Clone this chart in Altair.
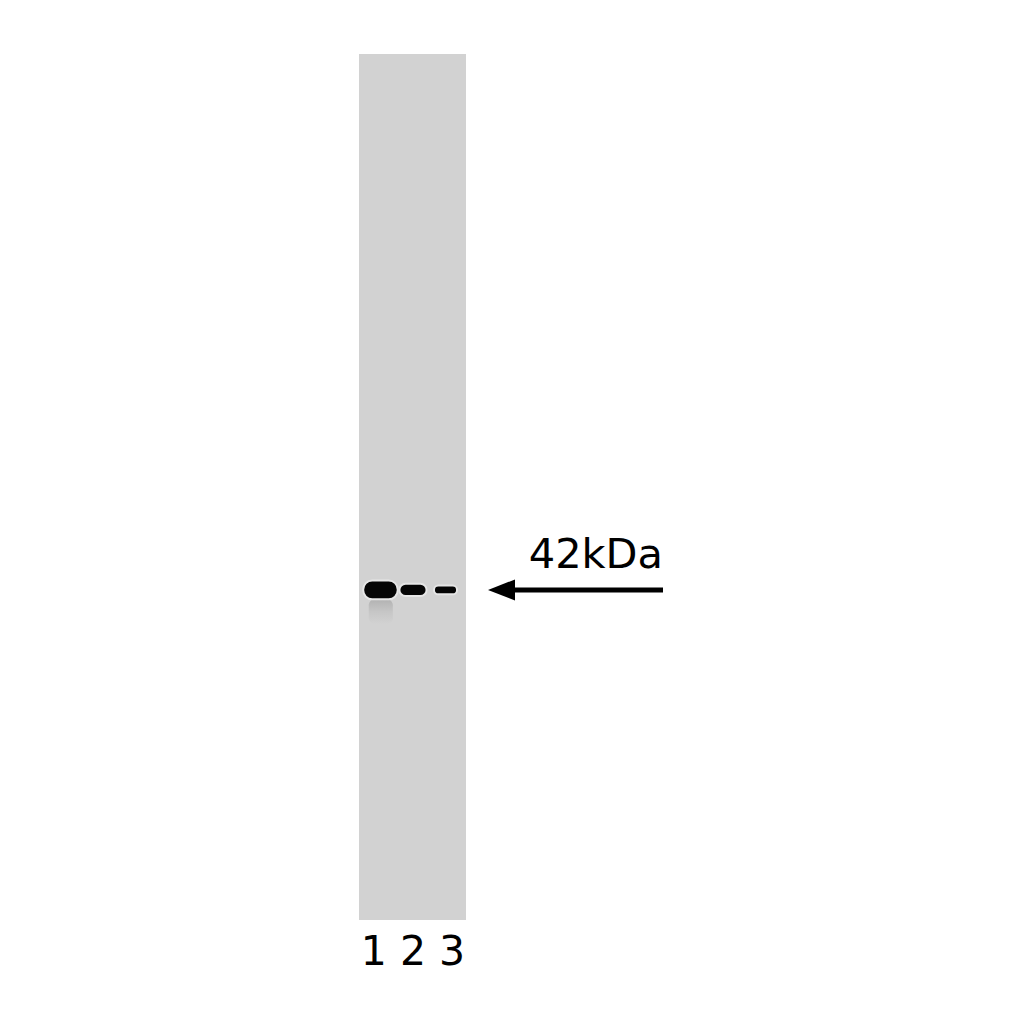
import altair as alt
import pandas as pd

lane_labels = ["1", "2", "3"]
lane_index = [1, 2, 3]
band_kda = [42, 42, 42]
band_intensity = [1.0, 0.55, 0.3]
marker_kda = 42
marker_label = f"{marker_kda}kDa"

# gel coordinate system (log molecular weight, lane number)
mw_top, mw_bottom = 250, 14
lane_domain = [0.34, 3.63]

bands = pd.DataFrame({
    "lane": lane_index,
    "label": lane_labels,
    "kda": band_kda,
    "intensity": band_intensity,
})
marker = pd.DataFrame({"kda": [marker_kda], "label": [marker_label]})

x_scale = alt.Scale(domain=lane_domain, nice=False, zero=False)
y_scale = alt.Scale(type="log", domain=[mw_bottom, mw_top], nice=False)

lane_axis = alt.Axis(
    title=" ".join(lane_labels), labels=False, ticks=False, domain=False, grid=False,
    titleFontSize=41, titleFont="DejaVu Sans", titleFontWeight="normal",
    titleColor="black", titlePadding=12,
)

band_base = alt.Chart(bands).transform_calculate(
    x0="datum.lane - (0.56 + 0.5 * datum.intensity) / 2",
    x1="datum.lane + (0.56 + 0.5 * datum.intensity) / 2",
    k_hi="datum.kda * pow(10, (2.2 + 7.2 * datum.intensity) * 0.00145)",
    k_lo="datum.kda / pow(10, (2.2 + 7.2 * datum.intensity) * 0.00145)",
)

smear = band_base.transform_filter("datum.intensity >= 1").transform_calculate(
    s0="datum.lane - 0.36",
    s1="datum.lane + 0.38",
    s_lo="datum.kda / pow(10, 34 * 0.00145)",
).mark_rect(
    color=alt.Gradient(
        gradient="linear",
        stops=[alt.GradientStop(color="#b2b2b2", offset=0),
               alt.GradientStop(color="#c6c6c6", offset=0.5),
               alt.GradientStop(color="#d2d2d2", offset=1)],
        x1=0, x2=0, y1=0, y2=1,
    ),
    cornerRadius=6,
).encode(
    x=alt.X("s0:Q", scale=x_scale, axis=lane_axis),
    x2="s1:Q",
    y=alt.Y("k_lo:Q", scale=y_scale, axis=None),
    y2="s_lo:Q",
)

band_layer = band_base.mark_rect(
    color="#050505", cornerRadius=9, stroke="#e6e6e6", strokeWidth=2
).encode(
    x=alt.X("x0:Q", scale=x_scale, axis=lane_axis),
    x2="x1:Q",
    y=alt.Y("k_hi:Q", scale=y_scale, axis=None),
    y2="k_lo:Q",
)

arrow_line = alt.Chart(marker).mark_rule(color="black", strokeWidth=5).encode(
    y=alt.Y("kda:Q", scale=y_scale, axis=None),
    x=alt.value(152),
    x2=alt.value(304),
)

arrow_head = alt.Chart(marker).mark_point(
    shape="M-1,0L1,-0.78L1,0.78Z", filled=True, size=729, color="black", opacity=1
).encode(
    y=alt.Y("kda:Q", scale=y_scale, axis=None),
    x=alt.value(142.5),
)

arrow_text = alt.Chart(marker).mark_text(
    align="right", baseline="alphabetic", dy=-22, fontSize=41.5,
    font="DejaVu Sans", color="black",
).encode(
    y=alt.Y("kda:Q", scale=y_scale, axis=None),
    x=alt.value(304),
    text="label:N",
)

chart = alt.layer(smear, band_layer, arrow_line, arrow_head, arrow_text).properties(
    width=107,
    height=866,
    autosize="none",
    padding={"left": 351, "top": 46, "right": 550, "bottom": 96},
    background="white",
).configure_view(fill="#d2d2d2", strokeWidth=0)

chart.save("out.html", embed_options={"renderer": "svg", "actions": False})
